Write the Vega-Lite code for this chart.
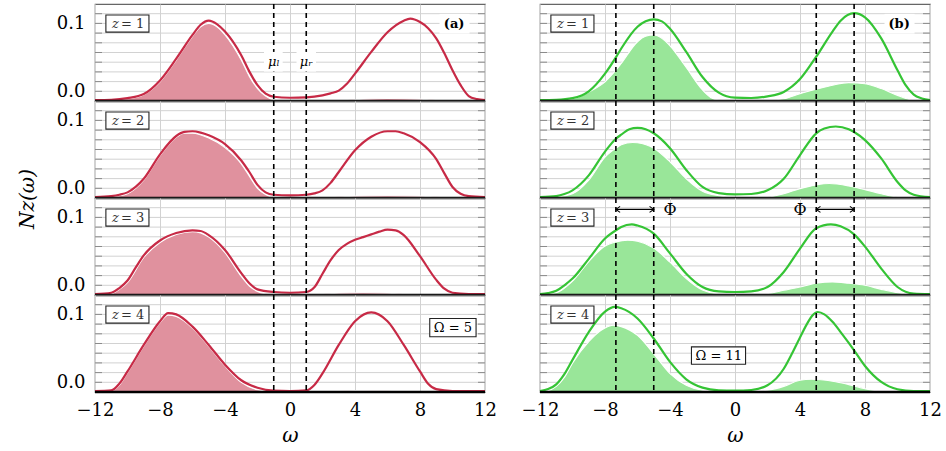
{
"$schema": "https://vega.github.io/schema/vega-lite/v6.json",
"padding": {"left": 17, "top": 2, "right": 13, "bottom": 0},
"bounds": "flush",
"config": {
  "font": "DejaVu Serif",
  "text": {"font": "DejaVu Serif"},
  "view": {"stroke": "#666", "strokeWidth": 1.2},
  "axis": {"labelFont": "DejaVu Serif", "labelFontSize": 18, "labelColor": "#000", "titleFont": "DejaVu Serif", "titleFontSize": 20, "titleFontWeight": "normal", "titleColor": "#000", "domain": false, "gridColor": "#d2d2d2", "gridWidth": 1, "tickColor": "#888", "tickWidth": 1}
},
"data": {"values": [
{"t":"box","p":"a","z":1,"zl":"= 1","tag":"(a)"},
{"t":"box","p":"a","z":2,"zl":"= 2","tag":"(a)"},
{"t":"box","p":"a","z":3,"zl":"= 3","tag":"(a)"},
{"t":"box","p":"a","z":4,"zl":"= 4","tag":"(a)"},
{"t":"box","p":"b","z":1,"zl":"= 1","tag":"(b)"},
{"t":"box","p":"b","z":2,"zl":"= 2","tag":"(b)"},
{"t":"box","p":"b","z":3,"zl":"= 3","tag":"(b)"},
{"t":"box","p":"b","z":4,"zl":"= 4","tag":"(b)"},
{"t":"v","p":"a","z":1,"x":-1},{"t":"v","p":"a","z":1,"x":1},
{"t":"v","p":"a","z":2,"x":-1},{"t":"v","p":"a","z":2,"x":1},
{"t":"v","p":"a","z":3,"x":-1},{"t":"v","p":"a","z":3,"x":1},
{"t":"v","p":"a","z":4,"x":-1},{"t":"v","p":"a","z":4,"x":1},
{"t":"v","p":"b","z":1,"x":-7.33},{"t":"v","p":"b","z":1,"x":-5},{"t":"v","p":"b","z":1,"x":5},{"t":"v","p":"b","z":1,"x":7.33},
{"t":"v","p":"b","z":2,"x":-7.33},{"t":"v","p":"b","z":2,"x":-5},{"t":"v","p":"b","z":2,"x":5},{"t":"v","p":"b","z":2,"x":7.33},
{"t":"v","p":"b","z":3,"x":-7.33},{"t":"v","p":"b","z":3,"x":-5},{"t":"v","p":"b","z":3,"x":5},{"t":"v","p":"b","z":3,"x":7.33},
{"t":"v","p":"b","z":4,"x":-7.33},{"t":"v","p":"b","z":4,"x":-5},{"t":"v","p":"b","z":4,"x":5},{"t":"v","p":"b","z":4,"x":7.33},

{"t":"l","p":"a","z":1,"x":-12,"y":-0.013},{"t":"l","p":"a","z":1,"x":-11,"y":-0.0125},{"t":"l","p":"a","z":1,"x":-10,"y":-0.010},{"t":"l","p":"a","z":1,"x":-9,"y":-0.004},{"t":"l","p":"a","z":1,"x":-8,"y":0.016},{"t":"l","p":"a","z":1,"x":-7,"y":0.048},{"t":"l","p":"a","z":1,"x":-6,"y":0.083},{"t":"l","p":"a","z":1,"x":-5.5,"y":0.098},{"t":"l","p":"a","z":1,"x":-5,"y":0.104},{"t":"l","p":"a","z":1,"x":-4.5,"y":0.099},{"t":"l","p":"a","z":1,"x":-4,"y":0.088},{"t":"l","p":"a","z":1,"x":-3,"y":0.053},{"t":"l","p":"a","z":1,"x":-2.5,"y":0.029},{"t":"l","p":"a","z":1,"x":-2,"y":0.009},{"t":"l","p":"a","z":1,"x":-1.5,"y":-0.0035},{"t":"l","p":"a","z":1,"x":-1,"y":-0.008},{"t":"l","p":"a","z":1,"x":0,"y":-0.0095},{"t":"l","p":"a","z":1,"x":1,"y":-0.009},{"t":"l","p":"a","z":1,"x":2,"y":-0.006},{"t":"l","p":"a","z":1,"x":2.5,"y":-0.003},{"t":"l","p":"a","z":1,"x":3,"y":0.001},{"t":"l","p":"a","z":1,"x":3.5,"y":0.011},{"t":"l","p":"a","z":1,"x":4,"y":0.026},{"t":"l","p":"a","z":1,"x":5,"y":0.058},{"t":"l","p":"a","z":1,"x":6,"y":0.087},{"t":"l","p":"a","z":1,"x":7,"y":0.104},{"t":"l","p":"a","z":1,"x":7.4,"y":0.107},{"t":"l","p":"a","z":1,"x":8,"y":0.102},{"t":"l","p":"a","z":1,"x":8.5,"y":0.093},{"t":"l","p":"a","z":1,"x":9,"y":0.078},{"t":"l","p":"a","z":1,"x":9.5,"y":0.056},{"t":"l","p":"a","z":1,"x":10,"y":0.031},{"t":"l","p":"a","z":1,"x":10.5,"y":0.009},{"t":"l","p":"a","z":1,"x":11,"y":-0.007},{"t":"l","p":"a","z":1,"x":11.5,"y":-0.0115},{"t":"l","p":"a","z":1,"x":12,"y":-0.013},

{"t":"f","p":"a","z":1,"x":-12,"y":-0.0135},{"t":"f","p":"a","z":1,"x":-10,"y":-0.011},{"t":"f","p":"a","z":1,"x":-9,"y":-0.005},{"t":"f","p":"a","z":1,"x":-8,"y":0.014},{"t":"f","p":"a","z":1,"x":-7,"y":0.046},{"t":"f","p":"a","z":1,"x":-6,"y":0.081},{"t":"f","p":"a","z":1,"x":-5.5,"y":0.095},{"t":"f","p":"a","z":1,"x":-5,"y":0.1},{"t":"f","p":"a","z":1,"x":-4.5,"y":0.095},{"t":"f","p":"a","z":1,"x":-4,"y":0.083},{"t":"f","p":"a","z":1,"x":-3,"y":0.046},{"t":"f","p":"a","z":1,"x":-2.5,"y":0.022},{"t":"f","p":"a","z":1,"x":-2,"y":0.004},{"t":"f","p":"a","z":1,"x":-1.5,"y":-0.007},{"t":"f","p":"a","z":1,"x":-1,"y":-0.0125},{"t":"f","p":"a","z":1,"x":0,"y":-0.0135},{"t":"f","p":"a","z":1,"x":3,"y":-0.0135},{"t":"f","p":"a","z":1,"x":4.5,"y":-0.0115},{"t":"f","p":"a","z":1,"x":6,"y":-0.0105},{"t":"f","p":"a","z":1,"x":8,"y":-0.0115},{"t":"f","p":"a","z":1,"x":9.5,"y":-0.0135},{"t":"f","p":"a","z":1,"x":12,"y":-0.0135},

{"t":"l","p":"a","z":2,"x":-12,"y":-0.013},{"t":"l","p":"a","z":2,"x":-11,"y":-0.0115},{"t":"l","p":"a","z":2,"x":-10.5,"y":-0.0095},{"t":"l","p":"a","z":2,"x":-10,"y":-0.006},{"t":"l","p":"a","z":2,"x":-9.5,"y":0.002},{"t":"l","p":"a","z":2,"x":-9,"y":0.014},{"t":"l","p":"a","z":2,"x":-8,"y":0.05},{"t":"l","p":"a","z":2,"x":-7,"y":0.077},{"t":"l","p":"a","z":2,"x":-6.5,"y":0.083},{"t":"l","p":"a","z":2,"x":-6,"y":0.084},{"t":"l","p":"a","z":2,"x":-5.5,"y":0.082},{"t":"l","p":"a","z":2,"x":-5,"y":0.078},{"t":"l","p":"a","z":2,"x":-4,"y":0.065},{"t":"l","p":"a","z":2,"x":-3,"y":0.041},{"t":"l","p":"a","z":2,"x":-2.5,"y":0.024},{"t":"l","p":"a","z":2,"x":-2,"y":0.005},{"t":"l","p":"a","z":2,"x":-1.5,"y":-0.006},{"t":"l","p":"a","z":2,"x":-1,"y":-0.0095},{"t":"l","p":"a","z":2,"x":0,"y":-0.0105},{"t":"l","p":"a","z":2,"x":1,"y":-0.0095},{"t":"l","p":"a","z":2,"x":1.5,"y":-0.0075},{"t":"l","p":"a","z":2,"x":2,"y":-0.003},{"t":"l","p":"a","z":2,"x":2.5,"y":0.008},{"t":"l","p":"a","z":2,"x":3,"y":0.024},{"t":"l","p":"a","z":2,"x":4,"y":0.056},{"t":"l","p":"a","z":2,"x":5,"y":0.076},{"t":"l","p":"a","z":2,"x":6,"y":0.084},{"t":"l","p":"a","z":2,"x":6.5,"y":0.084},{"t":"l","p":"a","z":2,"x":7,"y":0.081},{"t":"l","p":"a","z":2,"x":8,"y":0.068},{"t":"l","p":"a","z":2,"x":9,"y":0.043},{"t":"l","p":"a","z":2,"x":9.5,"y":0.022},{"t":"l","p":"a","z":2,"x":10,"y":0.002},{"t":"l","p":"a","z":2,"x":10.5,"y":-0.008},{"t":"l","p":"a","z":2,"x":11,"y":-0.0115},{"t":"l","p":"a","z":2,"x":12,"y":-0.013},

{"t":"f","p":"a","z":2,"x":-12,"y":-0.0135},{"t":"f","p":"a","z":2,"x":-10.5,"y":-0.011},{"t":"f","p":"a","z":2,"x":-10,"y":-0.008},{"t":"f","p":"a","z":2,"x":-9,"y":0.012},{"t":"f","p":"a","z":2,"x":-8,"y":0.048},{"t":"f","p":"a","z":2,"x":-7,"y":0.075},{"t":"f","p":"a","z":2,"x":-6.5,"y":0.081},{"t":"f","p":"a","z":2,"x":-6,"y":0.081},{"t":"f","p":"a","z":2,"x":-5,"y":0.074},{"t":"f","p":"a","z":2,"x":-4,"y":0.06},{"t":"f","p":"a","z":2,"x":-3,"y":0.036},{"t":"f","p":"a","z":2,"x":-2.5,"y":0.018},{"t":"f","p":"a","z":2,"x":-2,"y":0.0},{"t":"f","p":"a","z":2,"x":-1.5,"y":-0.009},{"t":"f","p":"a","z":2,"x":-1,"y":-0.0135},{"t":"f","p":"a","z":2,"x":2,"y":-0.0135},{"t":"f","p":"a","z":2,"x":4,"y":-0.0115},{"t":"f","p":"a","z":2,"x":6,"y":-0.011},{"t":"f","p":"a","z":2,"x":8,"y":-0.0115},{"t":"f","p":"a","z":2,"x":10,"y":-0.0135},{"t":"f","p":"a","z":2,"x":12,"y":-0.0135},

{"t":"l","p":"a","z":3,"x":-12,"y":-0.013},{"t":"l","p":"a","z":3,"x":-11,"y":-0.011},{"t":"l","p":"a","z":3,"x":-10.5,"y":-0.004},{"t":"l","p":"a","z":3,"x":-10,"y":0.007},{"t":"l","p":"a","z":3,"x":-9.5,"y":0.026},{"t":"l","p":"a","z":3,"x":-9,"y":0.044},{"t":"l","p":"a","z":3,"x":-8,"y":0.066},{"t":"l","p":"a","z":3,"x":-7,"y":0.077},{"t":"l","p":"a","z":3,"x":-6,"y":0.081},{"t":"l","p":"a","z":3,"x":-5.5,"y":0.08},{"t":"l","p":"a","z":3,"x":-5,"y":0.074},{"t":"l","p":"a","z":3,"x":-4,"y":0.052},{"t":"l","p":"a","z":3,"x":-3,"y":0.018},{"t":"l","p":"a","z":3,"x":-2.5,"y":0.003},{"t":"l","p":"a","z":3,"x":-2,"y":-0.006},{"t":"l","p":"a","z":3,"x":-1,"y":-0.0099},{"t":"l","p":"a","z":3,"x":0,"y":-0.011},{"t":"l","p":"a","z":3,"x":1,"y":-0.0099},{"t":"l","p":"a","z":3,"x":1.5,"y":-0.003},{"t":"l","p":"a","z":3,"x":2,"y":0.017},{"t":"l","p":"a","z":3,"x":2.5,"y":0.037},{"t":"l","p":"a","z":3,"x":3,"y":0.052},{"t":"l","p":"a","z":3,"x":3.5,"y":0.061},{"t":"l","p":"a","z":3,"x":4,"y":0.067},{"t":"l","p":"a","z":3,"x":4.5,"y":0.071},{"t":"l","p":"a","z":3,"x":5,"y":0.075},{"t":"l","p":"a","z":3,"x":5.5,"y":0.079},{"t":"l","p":"a","z":3,"x":6,"y":0.082},{"t":"l","p":"a","z":3,"x":6.5,"y":0.081},{"t":"l","p":"a","z":3,"x":7,"y":0.074},{"t":"l","p":"a","z":3,"x":8,"y":0.043},{"t":"l","p":"a","z":3,"x":9,"y":0.008},{"t":"l","p":"a","z":3,"x":9.5,"y":-0.005},{"t":"l","p":"a","z":3,"x":10,"y":-0.011},{"t":"l","p":"a","z":3,"x":11,"y":-0.0128},{"t":"l","p":"a","z":3,"x":12,"y":-0.013},

{"t":"f","p":"a","z":3,"x":-12,"y":-0.0135},{"t":"f","p":"a","z":3,"x":-11,"y":-0.0125},{"t":"f","p":"a","z":3,"x":-10.5,"y":-0.006},{"t":"f","p":"a","z":3,"x":-10,"y":0.004},{"t":"f","p":"a","z":3,"x":-9,"y":0.041},{"t":"f","p":"a","z":3,"x":-8,"y":0.063},{"t":"f","p":"a","z":3,"x":-7,"y":0.075},{"t":"f","p":"a","z":3,"x":-6,"y":0.079},{"t":"f","p":"a","z":3,"x":-5.5,"y":0.077},{"t":"f","p":"a","z":3,"x":-5,"y":0.071},{"t":"f","p":"a","z":3,"x":-4,"y":0.048},{"t":"f","p":"a","z":3,"x":-3,"y":0.013},{"t":"f","p":"a","z":3,"x":-2.5,"y":-0.001},{"t":"f","p":"a","z":3,"x":-2,"y":-0.009},{"t":"f","p":"a","z":3,"x":-1.5,"y":-0.0125},{"t":"f","p":"a","z":3,"x":-1,"y":-0.0135},{"t":"f","p":"a","z":3,"x":1.5,"y":-0.0135},{"t":"f","p":"a","z":3,"x":3,"y":-0.0115},{"t":"f","p":"a","z":3,"x":4.5,"y":-0.011},{"t":"f","p":"a","z":3,"x":6,"y":-0.0115},{"t":"f","p":"a","z":3,"x":7.5,"y":-0.0135},{"t":"f","p":"a","z":3,"x":12,"y":-0.0135},

{"t":"l","p":"a","z":4,"x":-12,"y":-0.013},{"t":"l","p":"a","z":4,"x":-11,"y":-0.012},{"t":"l","p":"a","z":4,"x":-10.5,"y":-0.002},{"t":"l","p":"a","z":4,"x":-10,"y":0.016},{"t":"l","p":"a","z":4,"x":-9,"y":0.055},{"t":"l","p":"a","z":4,"x":-8,"y":0.09},{"t":"l","p":"a","z":4,"x":-7.5,"y":0.102},{"t":"l","p":"a","z":4,"x":-7,"y":0.1},{"t":"l","p":"a","z":4,"x":-6,"y":0.082},{"t":"l","p":"a","z":4,"x":-5,"y":0.055},{"t":"l","p":"a","z":4,"x":-4,"y":0.026},{"t":"l","p":"a","z":4,"x":-3,"y":0.003},{"t":"l","p":"a","z":4,"x":-2,"y":-0.008},{"t":"l","p":"a","z":4,"x":-1,"y":-0.0123},{"t":"l","p":"a","z":4,"x":0,"y":-0.0128},{"t":"l","p":"a","z":4,"x":1,"y":-0.012},{"t":"l","p":"a","z":4,"x":1.5,"y":-0.004},{"t":"l","p":"a","z":4,"x":2,"y":0.013},{"t":"l","p":"a","z":4,"x":3,"y":0.055},{"t":"l","p":"a","z":4,"x":4,"y":0.09},{"t":"l","p":"a","z":4,"x":5,"y":0.103},{"t":"l","p":"a","z":4,"x":6,"y":0.09},{"t":"l","p":"a","z":4,"x":7,"y":0.055},{"t":"l","p":"a","z":4,"x":8,"y":0.016},{"t":"l","p":"a","z":4,"x":8.5,"y":-0.002},{"t":"l","p":"a","z":4,"x":9,"y":-0.01},{"t":"l","p":"a","z":4,"x":10,"y":-0.0128},{"t":"l","p":"a","z":4,"x":12,"y":-0.013},

{"t":"f","p":"a","z":4,"x":-12,"y":-0.0135},{"t":"f","p":"a","z":4,"x":-11,"y":-0.0125},{"t":"f","p":"a","z":4,"x":-10.5,"y":-0.004},{"t":"f","p":"a","z":4,"x":-10,"y":0.014},{"t":"f","p":"a","z":4,"x":-9,"y":0.053},{"t":"f","p":"a","z":4,"x":-8,"y":0.088},{"t":"f","p":"a","z":4,"x":-7.5,"y":0.099},{"t":"f","p":"a","z":4,"x":-7,"y":0.097},{"t":"f","p":"a","z":4,"x":-6,"y":0.08},{"t":"f","p":"a","z":4,"x":-5,"y":0.053},{"t":"f","p":"a","z":4,"x":-4,"y":0.024},{"t":"f","p":"a","z":4,"x":-3,"y":0.0},{"t":"f","p":"a","z":4,"x":-2,"y":-0.011},{"t":"f","p":"a","z":4,"x":-1,"y":-0.0135},{"t":"f","p":"a","z":4,"x":2,"y":-0.0135},{"t":"f","p":"a","z":4,"x":4,"y":-0.012},{"t":"f","p":"a","z":4,"x":6,"y":-0.0125},{"t":"f","p":"a","z":4,"x":7,"y":-0.0135},{"t":"f","p":"a","z":4,"x":12,"y":-0.0135},

{"t":"l","p":"b","z":1,"x":-12,"y":-0.013},{"t":"l","p":"b","z":1,"x":-11,"y":-0.0125},{"t":"l","p":"b","z":1,"x":-10,"y":-0.01},{"t":"l","p":"b","z":1,"x":-9,"y":0.0},{"t":"l","p":"b","z":1,"x":-8,"y":0.026},{"t":"l","p":"b","z":1,"x":-7.33,"y":0.05},{"t":"l","p":"b","z":1,"x":-7,"y":0.063},{"t":"l","p":"b","z":1,"x":-6,"y":0.095},{"t":"l","p":"b","z":1,"x":-5.5,"y":0.103},{"t":"l","p":"b","z":1,"x":-5,"y":0.106},{"t":"l","p":"b","z":1,"x":-4.5,"y":0.103},{"t":"l","p":"b","z":1,"x":-4,"y":0.092},{"t":"l","p":"b","z":1,"x":-3,"y":0.058},{"t":"l","p":"b","z":1,"x":-2,"y":0.021},{"t":"l","p":"b","z":1,"x":-1,"y":-0.002},{"t":"l","p":"b","z":1,"x":0,"y":-0.0094},{"t":"l","p":"b","z":1,"x":1,"y":-0.0099},{"t":"l","p":"b","z":1,"x":2,"y":-0.0075},{"t":"l","p":"b","z":1,"x":3,"y":-0.001},{"t":"l","p":"b","z":1,"x":4,"y":0.018},{"t":"l","p":"b","z":1,"x":5,"y":0.051},{"t":"l","p":"b","z":1,"x":6,"y":0.088},{"t":"l","p":"b","z":1,"x":6.5,"y":0.104},{"t":"l","p":"b","z":1,"x":7.33,"y":0.115},{"t":"l","p":"b","z":1,"x":8,"y":0.109},{"t":"l","p":"b","z":1,"x":9,"y":0.078},{"t":"l","p":"b","z":1,"x":10,"y":0.031},{"t":"l","p":"b","z":1,"x":10.5,"y":0.009},{"t":"l","p":"b","z":1,"x":11,"y":-0.005},{"t":"l","p":"b","z":1,"x":11.5,"y":-0.0105},{"t":"l","p":"b","z":1,"x":12,"y":-0.013},

{"t":"f","p":"b","z":1,"x":-12,"y":-0.0135},{"t":"f","p":"b","z":1,"x":-10.5,"y":-0.0125},{"t":"f","p":"b","z":1,"x":-10,"y":-0.011},{"t":"f","p":"b","z":1,"x":-9.5,"y":-0.007},{"t":"f","p":"b","z":1,"x":-9,"y":-0.001},{"t":"f","p":"b","z":1,"x":-8,"y":0.014},{"t":"f","p":"b","z":1,"x":-7.33,"y":0.031},{"t":"f","p":"b","z":1,"x":-7,"y":0.041},{"t":"f","p":"b","z":1,"x":-6,"y":0.073},{"t":"f","p":"b","z":1,"x":-5.5,"y":0.081},{"t":"f","p":"b","z":1,"x":-5,"y":0.083},{"t":"f","p":"b","z":1,"x":-4.5,"y":0.078},{"t":"f","p":"b","z":1,"x":-4,"y":0.067},{"t":"f","p":"b","z":1,"x":-3,"y":0.035},{"t":"f","p":"b","z":1,"x":-2,"y":0.002},{"t":"f","p":"b","z":1,"x":-1.5,"y":-0.009},{"t":"f","p":"b","z":1,"x":-1,"y":-0.0125},{"t":"f","p":"b","z":1,"x":0,"y":-0.0135},{"t":"f","p":"b","z":1,"x":2,"y":-0.013},{"t":"f","p":"b","z":1,"x":3,"y":-0.011},{"t":"f","p":"b","z":1,"x":4,"y":-0.0035},{"t":"f","p":"b","z":1,"x":5,"y":0.003},{"t":"f","p":"b","z":1,"x":6,"y":0.009},{"t":"f","p":"b","z":1,"x":7,"y":0.0128},{"t":"f","p":"b","z":1,"x":8,"y":0.011},{"t":"f","p":"b","z":1,"x":9,"y":0.004},{"t":"f","p":"b","z":1,"x":10,"y":-0.006},{"t":"f","p":"b","z":1,"x":11,"y":-0.013},{"t":"f","p":"b","z":1,"x":12,"y":-0.0135},

{"t":"l","p":"b","z":2,"x":-12,"y":-0.013},{"t":"l","p":"b","z":2,"x":-11,"y":-0.0115},{"t":"l","p":"b","z":2,"x":-10.5,"y":-0.0085},{"t":"l","p":"b","z":2,"x":-10,"y":-0.003},{"t":"l","p":"b","z":2,"x":-9,"y":0.019},{"t":"l","p":"b","z":2,"x":-8,"y":0.054},{"t":"l","p":"b","z":2,"x":-7.33,"y":0.073},{"t":"l","p":"b","z":2,"x":-7,"y":0.079},{"t":"l","p":"b","z":2,"x":-6.5,"y":0.087},{"t":"l","p":"b","z":2,"x":-6,"y":0.089},{"t":"l","p":"b","z":2,"x":-5.5,"y":0.087},{"t":"l","p":"b","z":2,"x":-5,"y":0.081},{"t":"l","p":"b","z":2,"x":-4,"y":0.059},{"t":"l","p":"b","z":2,"x":-3,"y":0.027},{"t":"l","p":"b","z":2,"x":-2,"y":0.002},{"t":"l","p":"b","z":2,"x":-1,"y":-0.007},{"t":"l","p":"b","z":2,"x":0,"y":-0.009},{"t":"l","p":"b","z":2,"x":1,"y":-0.0084},{"t":"l","p":"b","z":2,"x":2,"y":-0.003},{"t":"l","p":"b","z":2,"x":3,"y":0.014},{"t":"l","p":"b","z":2,"x":4,"y":0.049},{"t":"l","p":"b","z":2,"x":5,"y":0.081},{"t":"l","p":"b","z":2,"x":5.5,"y":0.088},{"t":"l","p":"b","z":2,"x":6.2,"y":0.091},{"t":"l","p":"b","z":2,"x":7,"y":0.087},{"t":"l","p":"b","z":2,"x":7.33,"y":0.083},{"t":"l","p":"b","z":2,"x":8,"y":0.071},{"t":"l","p":"b","z":2,"x":9,"y":0.044},{"t":"l","p":"b","z":2,"x":10,"y":0.0094},{"t":"l","p":"b","z":2,"x":10.5,"y":-0.003},{"t":"l","p":"b","z":2,"x":11,"y":-0.0094},{"t":"l","p":"b","z":2,"x":12,"y":-0.013},

{"t":"f","p":"b","z":2,"x":-12,"y":-0.0135},{"t":"f","p":"b","z":2,"x":-11,"y":-0.0125},{"t":"f","p":"b","z":2,"x":-10,"y":-0.008},{"t":"f","p":"b","z":2,"x":-9,"y":0.012},{"t":"f","p":"b","z":2,"x":-8,"y":0.046},{"t":"f","p":"b","z":2,"x":-7.33,"y":0.059},{"t":"f","p":"b","z":2,"x":-7,"y":0.064},{"t":"f","p":"b","z":2,"x":-6.3,"y":0.0675},{"t":"f","p":"b","z":2,"x":-6,"y":0.067},{"t":"f","p":"b","z":2,"x":-5,"y":0.059},{"t":"f","p":"b","z":2,"x":-4,"y":0.039},{"t":"f","p":"b","z":2,"x":-3,"y":0.014},{"t":"f","p":"b","z":2,"x":-2,"y":-0.0044},{"t":"f","p":"b","z":2,"x":-1,"y":-0.011},{"t":"f","p":"b","z":2,"x":0,"y":-0.0135},{"t":"f","p":"b","z":2,"x":1,"y":-0.0135},{"t":"f","p":"b","z":2,"x":2,"y":-0.0128},{"t":"f","p":"b","z":2,"x":3,"y":-0.008},{"t":"f","p":"b","z":2,"x":4,"y":-0.0005},{"t":"f","p":"b","z":2,"x":5,"y":0.005},{"t":"f","p":"b","z":2,"x":5.8,"y":0.007},{"t":"f","p":"b","z":2,"x":7,"y":0.0035},{"t":"f","p":"b","z":2,"x":8,"y":-0.002},{"t":"f","p":"b","z":2,"x":9,"y":-0.008},{"t":"f","p":"b","z":2,"x":10,"y":-0.0128},{"t":"f","p":"b","z":2,"x":11,"y":-0.0135},{"t":"f","p":"b","z":2,"x":12,"y":-0.0135},

{"t":"l","p":"b","z":3,"x":-12,"y":-0.013},{"t":"l","p":"b","z":3,"x":-11.5,"y":-0.0115},{"t":"l","p":"b","z":3,"x":-11,"y":-0.008},{"t":"l","p":"b","z":3,"x":-10.5,"y":0.0},{"t":"l","p":"b","z":3,"x":-10,"y":0.0099},{"t":"l","p":"b","z":3,"x":-9,"y":0.039},{"t":"l","p":"b","z":3,"x":-8,"y":0.069},{"t":"l","p":"b","z":3,"x":-7.33,"y":0.081},{"t":"l","p":"b","z":3,"x":-7,"y":0.086},{"t":"l","p":"b","z":3,"x":-6.35,"y":0.0897},{"t":"l","p":"b","z":3,"x":-6,"y":0.088},{"t":"l","p":"b","z":3,"x":-5,"y":0.076},{"t":"l","p":"b","z":3,"x":-4,"y":0.047},{"t":"l","p":"b","z":3,"x":-3,"y":0.017},{"t":"l","p":"b","z":3,"x":-2,"y":-0.0025},{"t":"l","p":"b","z":3,"x":-1,"y":-0.0089},{"t":"l","p":"b","z":3,"x":0,"y":-0.0099},{"t":"l","p":"b","z":3,"x":1,"y":-0.0089},{"t":"l","p":"b","z":3,"x":2,"y":-0.0025},{"t":"l","p":"b","z":3,"x":3,"y":0.0197},{"t":"l","p":"b","z":3,"x":4,"y":0.054},{"t":"l","p":"b","z":3,"x":5,"y":0.084},{"t":"l","p":"b","z":3,"x":5.9,"y":0.0897},{"t":"l","p":"b","z":3,"x":6.5,"y":0.087},{"t":"l","p":"b","z":3,"x":7.33,"y":0.075},{"t":"l","p":"b","z":3,"x":8,"y":0.057},{"t":"l","p":"b","z":3,"x":9,"y":0.0246},{"t":"l","p":"b","z":3,"x":10,"y":-0.0025},{"t":"l","p":"b","z":3,"x":11,"y":-0.0123},{"t":"l","p":"b","z":3,"x":12,"y":-0.013},

{"t":"f","p":"b","z":3,"x":-12,"y":-0.0135},{"t":"f","p":"b","z":3,"x":-11,"y":-0.011},{"t":"f","p":"b","z":3,"x":-10,"y":0.006},{"t":"f","p":"b","z":3,"x":-9,"y":0.035},{"t":"f","p":"b","z":3,"x":-8,"y":0.058},{"t":"f","p":"b","z":3,"x":-7.33,"y":0.064},{"t":"f","p":"b","z":3,"x":-6.6,"y":0.0665},{"t":"f","p":"b","z":3,"x":-6,"y":0.065},{"t":"f","p":"b","z":3,"x":-5,"y":0.055},{"t":"f","p":"b","z":3,"x":-4,"y":0.034},{"t":"f","p":"b","z":3,"x":-3,"y":0.01},{"t":"f","p":"b","z":3,"x":-2,"y":-0.007},{"t":"f","p":"b","z":3,"x":-1,"y":-0.0125},{"t":"f","p":"b","z":3,"x":0,"y":-0.0135},{"t":"f","p":"b","z":3,"x":1,"y":-0.0135},{"t":"f","p":"b","z":3,"x":2,"y":-0.0123},{"t":"f","p":"b","z":3,"x":3,"y":-0.0074},{"t":"f","p":"b","z":3,"x":4,"y":-0.0025},{"t":"f","p":"b","z":3,"x":5,"y":0.003},{"t":"f","p":"b","z":3,"x":6,"y":0.005},{"t":"f","p":"b","z":3,"x":7,"y":0.003},{"t":"f","p":"b","z":3,"x":8,"y":0.0},{"t":"f","p":"b","z":3,"x":9,"y":-0.006},{"t":"f","p":"b","z":3,"x":10,"y":-0.011},{"t":"f","p":"b","z":3,"x":11,"y":-0.0135},{"t":"f","p":"b","z":3,"x":12,"y":-0.0135},

{"t":"l","p":"b","z":4,"x":-12,"y":-0.013},{"t":"l","p":"b","z":4,"x":-11.5,"y":-0.01},{"t":"l","p":"b","z":4,"x":-11,"y":-0.003},{"t":"l","p":"b","z":4,"x":-10.5,"y":0.012},{"t":"l","p":"b","z":4,"x":-10,"y":0.033},{"t":"l","p":"b","z":4,"x":-9,"y":0.074},{"t":"l","p":"b","z":4,"x":-8,"y":0.104},{"t":"l","p":"b","z":4,"x":-7.4,"y":0.111},{"t":"l","p":"b","z":4,"x":-7,"y":0.109},{"t":"l","p":"b","z":4,"x":-6,"y":0.094},{"t":"l","p":"b","z":4,"x":-5,"y":0.0645},{"t":"l","p":"b","z":4,"x":-4,"y":0.03},{"t":"l","p":"b","z":4,"x":-3,"y":0.0044},{"t":"l","p":"b","z":4,"x":-2,"y":-0.0079},{"t":"l","p":"b","z":4,"x":-1,"y":-0.0118},{"t":"l","p":"b","z":4,"x":0,"y":-0.0123},{"t":"l","p":"b","z":4,"x":1,"y":-0.0113},{"t":"l","p":"b","z":4,"x":2,"y":-0.0044},{"t":"l","p":"b","z":4,"x":3,"y":0.02},{"t":"l","p":"b","z":4,"x":3.5,"y":0.042},{"t":"l","p":"b","z":4,"x":4,"y":0.066},{"t":"l","p":"b","z":4,"x":4.5,"y":0.089},{"t":"l","p":"b","z":4,"x":4.75,"y":0.098},{"t":"l","p":"b","z":4,"x":5.1,"y":0.1035},{"t":"l","p":"b","z":4,"x":5.5,"y":0.1},{"t":"l","p":"b","z":4,"x":6,"y":0.089},{"t":"l","p":"b","z":4,"x":6.5,"y":0.074},{"t":"l","p":"b","z":4,"x":7,"y":0.058},{"t":"l","p":"b","z":4,"x":7.33,"y":0.047},{"t":"l","p":"b","z":4,"x":8,"y":0.024},{"t":"l","p":"b","z":4,"x":9,"y":0.0005},{"t":"l","p":"b","z":4,"x":10,"y":-0.0103},{"t":"l","p":"b","z":4,"x":11,"y":-0.013},{"t":"l","p":"b","z":4,"x":12,"y":-0.013},

{"t":"f","p":"b","z":4,"x":-12,"y":-0.0135},{"t":"f","p":"b","z":4,"x":-11.5,"y":-0.0123},{"t":"f","p":"b","z":4,"x":-11,"y":-0.006},{"t":"f","p":"b","z":4,"x":-10.5,"y":0.007},{"t":"f","p":"b","z":4,"x":-10,"y":0.028},{"t":"f","p":"b","z":4,"x":-9,"y":0.06},{"t":"f","p":"b","z":4,"x":-8,"y":0.08},{"t":"f","p":"b","z":4,"x":-7.5,"y":0.084},{"t":"f","p":"b","z":4,"x":-7,"y":0.082},{"t":"f","p":"b","z":4,"x":-6,"y":0.069},{"t":"f","p":"b","z":4,"x":-5,"y":0.042},{"t":"f","p":"b","z":4,"x":-4,"y":0.0128},{"t":"f","p":"b","z":4,"x":-3,"y":-0.0044},{"t":"f","p":"b","z":4,"x":-2,"y":-0.0118},{"t":"f","p":"b","z":4,"x":-1,"y":-0.0135},{"t":"f","p":"b","z":4,"x":1,"y":-0.0135},{"t":"f","p":"b","z":4,"x":2,"y":-0.0118},{"t":"f","p":"b","z":4,"x":3,"y":-0.006},{"t":"f","p":"b","z":4,"x":4,"y":0.003},{"t":"f","p":"b","z":4,"x":4.7,"y":0.0044},{"t":"f","p":"b","z":4,"x":6,"y":0.0015},{"t":"f","p":"b","z":4,"x":7,"y":-0.0034},{"t":"f","p":"b","z":4,"x":8,"y":-0.0094},{"t":"f","p":"b","z":4,"x":9,"y":-0.013},{"t":"f","p":"b","z":4,"x":10,"y":-0.0135},{"t":"f","p":"b","z":4,"x":12,"y":-0.0135}
]},
"facet": {
  "row": {"field": "z", "type": "ordinal", "title": "Nz(ω)", "header": {"labels": false, "titleFont": "DejaVu Serif", "titleFontSize": 20, "titleFontStyle": "italic", "titleFontWeight": "normal", "titleColor": "#000", "titlePadding": 8}},
  "column": {"field": "p", "type": "nominal", "title": null, "header": {"labels": false}}
},
"spacing": {"row": 0, "column": 55},
"spec": {
  "width": 390,
  "height": 97,
  "layer": [
    {"transform": [{"filter": "datum.t=='box'"}], "mark": {"type": "rule", "color": "#d2d2d2", "strokeWidth": 1}, "encoding": {"y": {"datum": 0}}},
    {"transform": [{"filter": "datum.t=='box'"}], "mark": {"type": "rule", "color": "#d2d2d2", "strokeWidth": 1}, "encoding": {"y": {"datum": 0.0142857}}},
    {"transform": [{"filter": "datum.t=='box'"}], "mark": {"type": "rule", "color": "#d2d2d2", "strokeWidth": 1}, "encoding": {"y": {"datum": 0.0285714}}},
    {"transform": [{"filter": "datum.t=='box'"}], "mark": {"type": "rule", "color": "#d2d2d2", "strokeWidth": 1}, "encoding": {"y": {"datum": 0.0428571}}},
    {"transform": [{"filter": "datum.t=='box'"}], "mark": {"type": "rule", "color": "#d2d2d2", "strokeWidth": 1}, "encoding": {"y": {"datum": 0.0571429}}},
    {"transform": [{"filter": "datum.t=='box'"}], "mark": {"type": "rule", "color": "#d2d2d2", "strokeWidth": 1}, "encoding": {"y": {"datum": 0.0714286}}},
    {"transform": [{"filter": "datum.t=='box'"}], "mark": {"type": "rule", "color": "#d2d2d2", "strokeWidth": 1}, "encoding": {"y": {"datum": 0.0857143}}},
    {"transform": [{"filter": "datum.t=='box'"}], "mark": {"type": "rule", "color": "#d2d2d2", "strokeWidth": 1}, "encoding": {"y": {"datum": 0.1}}},
    {"transform": [{"filter": "datum.t=='box'"}], "mark": {"type": "rule", "color": "#d2d2d2", "strokeWidth": 1}, "encoding": {"y": {"datum": 0.1142857}}},
    {"transform": [{"filter": "datum.t=='box'"}], "mark": {"type": "rule", "color": "#8a8a8a", "strokeWidth": 1, "strokeDash": [7, 376]}, "encoding": {"y": {"datum": 0}}},
    {"transform": [{"filter": "datum.t=='box'"}], "mark": {"type": "rule", "color": "#8a8a8a", "strokeWidth": 1, "strokeDash": [7, 376]}, "encoding": {"y": {"datum": 0.0142857}}},
    {"transform": [{"filter": "datum.t=='box'"}], "mark": {"type": "rule", "color": "#8a8a8a", "strokeWidth": 1, "strokeDash": [7, 376]}, "encoding": {"y": {"datum": 0.0285714}}},
    {"transform": [{"filter": "datum.t=='box'"}], "mark": {"type": "rule", "color": "#8a8a8a", "strokeWidth": 1, "strokeDash": [7, 376]}, "encoding": {"y": {"datum": 0.0428571}}},
    {"transform": [{"filter": "datum.t=='box'"}], "mark": {"type": "rule", "color": "#8a8a8a", "strokeWidth": 1, "strokeDash": [7, 376]}, "encoding": {"y": {"datum": 0.0571429}}},
    {"transform": [{"filter": "datum.t=='box'"}], "mark": {"type": "rule", "color": "#8a8a8a", "strokeWidth": 1, "strokeDash": [7, 376]}, "encoding": {"y": {"datum": 0.0714286}}},
    {"transform": [{"filter": "datum.t=='box'"}], "mark": {"type": "rule", "color": "#8a8a8a", "strokeWidth": 1, "strokeDash": [7, 376]}, "encoding": {"y": {"datum": 0.0857143}}},
    {"transform": [{"filter": "datum.t=='box'"}], "mark": {"type": "rule", "color": "#8a8a8a", "strokeWidth": 1, "strokeDash": [7, 376]}, "encoding": {"y": {"datum": 0.1}}},
    {"transform": [{"filter": "datum.t=='box'"}], "mark": {"type": "rule", "color": "#8a8a8a", "strokeWidth": 1, "strokeDash": [7, 376]}, "encoding": {"y": {"datum": 0.1142857}}},
    {"transform": [{"filter": "datum.t=='f' && datum.p=='a'"}],
     "mark": {"type": "area", "interpolate": "monotone", "color": "#e0919e", "opacity": 1},
     "encoding": {
       "x": {"field": "x", "type": "quantitative", "scale": {"domain": [-12, 12], "nice": false},
             "axis": {"values": [-12,-10,-8,-6,-4,-2,0,2,4,6,8,10,12], "labelExpr": "datum.value % 4 == 0 ? (datum.value < 0 ? '−' + (-datum.value) : '' + datum.value) : ''", "title": "ω", "titleFontStyle": "italic", "titlePadding": 6, "tickSize": 0, "labelPadding": 9, "labelFlush": false, "labelOverlap": false, "grid": true}},
       "y": {"field": "y", "type": "quantitative", "scale": {"domain": [-0.0142857, 0.1285714], "nice": false, "zero": false},
             "axis": {"values": [0, 0.1], "format": ".1f", "title": null, "tickSize": 0, "labelPadding": 10, "labelOverlap": false, "grid": false}},
       "y2": {"datum": -0.0142857}}},
    {"transform": [{"filter": "datum.t=='f' && datum.p=='b'"}],
     "mark": {"type": "area", "interpolate": "monotone", "color": "#99e699", "opacity": 1},
     "encoding": {"x": {"field": "x", "type": "quantitative"}, "y": {"field": "y", "type": "quantitative"}, "y2": {"datum": -0.0142857}}},
    {"transform": [{"filter": "datum.t=='f'"}],
     "mark": {"type": "line", "interpolate": "monotone", "color": "#ffffff", "strokeWidth": 1.1},
     "encoding": {"x": {"field": "x", "type": "quantitative"}, "y": {"field": "y", "type": "quantitative"}}},
    {"transform": [{"filter": "datum.t=='l' && datum.p=='a'"}],
     "mark": {"type": "line", "interpolate": "monotone", "color": "#c72a46", "strokeWidth": 2.2},
     "encoding": {"x": {"field": "x", "type": "quantitative"}, "y": {"field": "y", "type": "quantitative"}}},
    {"transform": [{"filter": "datum.t=='l' && datum.p=='b'"}],
     "mark": {"type": "line", "interpolate": "monotone", "color": "#35c435", "strokeWidth": 2.2},
     "encoding": {"x": {"field": "x", "type": "quantitative"}, "y": {"field": "y", "type": "quantitative"}}},
    {"transform": [{"filter": "datum.t=='box'"}],
     "mark": {"type": "rule", "color": "#000", "strokeWidth": 2.4},
     "encoding": {"y": {"datum": -0.0142857}}},
    {"transform": [{"filter": "datum.t=='v'"}],
     "mark": {"type": "rule", "color": "#000", "strokeWidth": 1.6, "strokeDash": [5, 4]},
     "encoding": {"x": {"field": "x", "type": "quantitative"}}},
    {"transform": [{"filter": "datum.t=='box' && datum.p=='a' && datum.z==1"}],
     "mark": {"type": "rect", "color": "#fff"},
     "encoding": {"x": {"datum": -1.6}, "x2": {"datum": -0.45}, "y": {"datum": 0.058}, "y2": {"datum": 0.029}}},
    {"transform": [{"filter": "datum.t=='box' && datum.p=='a' && datum.z==1"}],
     "mark": {"type": "rect", "color": "#fff"},
     "encoding": {"x": {"datum": 0.4}, "x2": {"datum": 1.6}, "y": {"datum": 0.058}, "y2": {"datum": 0.029}}},
    {"transform": [{"filter": "datum.t=='box' && datum.z==1"}],
     "mark": {"type": "rect", "color": "#fff"},
     "encoding": {"x": {"datum": 9.2}, "x2": {"datum": 11.05}, "y": {"datum": 0.114}, "y2": {"datum": 0.085}}},
    {"transform": [{"filter": "datum.t=='box' && datum.p=='a' && datum.z==1"}],
     "mark": {"type": "text", "font": "DejaVu Serif", "fontSize": 13, "fontStyle": "italic", "color": "#000", "text": "μₗ"},
     "encoding": {"x": {"datum": -1.0}, "y": {"datum": 0.0425}}},
    {"transform": [{"filter": "datum.t=='box' && datum.p=='a' && datum.z==1"}],
     "mark": {"type": "text", "font": "DejaVu Serif", "fontSize": 13, "fontStyle": "italic", "color": "#000", "text": "μᵣ"},
     "encoding": {"x": {"datum": 1.0}, "y": {"datum": 0.0425}}},
    {"transform": [{"filter": "datum.t=='box' && datum.z==1"}],
     "mark": {"type": "text", "font": "DejaVu Serif", "fontSize": 13, "fontWeight": "bold", "color": "#000"},
     "encoding": {"x": {"datum": 10.1}, "y": {"datum": 0.0985}, "text": {"field": "tag"}}},
    {"transform": [{"filter": "datum.t=='box'"}],
     "mark": {"type": "rect", "fill": "#fff", "stroke": "#222", "strokeWidth": 1.1},
     "encoding": {"x": {"datum": -11.33}, "x2": {"datum": -8.68}, "y": {"datum": 0.1124}, "y2": {"datum": 0.0872}}},
    {"transform": [{"filter": "datum.t=='box'"}],
     "mark": {"type": "text", "font": "DejaVu Serif", "fontSize": 13, "fontStyle": "italic", "color": "#333", "align": "left", "text": "z"},
     "encoding": {"x": {"datum": -10.95}, "y": {"datum": 0.0995}}},
    {"transform": [{"filter": "datum.t=='box'"}],
     "mark": {"type": "text", "font": "DejaVu Serif", "fontSize": 13, "color": "#333", "align": "left"},
     "encoding": {"x": {"datum": -10.4}, "y": {"datum": 0.0995}, "text": {"field": "zl"}}},
    {"transform": [{"filter": "datum.t=='box' && datum.p=='a' && datum.z==4"}],
     "mark": {"type": "rect", "fill": "#fff", "stroke": "#222", "strokeWidth": 1.1},
     "encoding": {"x": {"datum": 8.6}, "x2": {"datum": 11.45}, "y": {"datum": 0.094}, "y2": {"datum": 0.067}}},
    {"transform": [{"filter": "datum.t=='box' && datum.p=='a' && datum.z==4"}],
     "mark": {"type": "text", "font": "DejaVu Serif", "fontSize": 13, "color": "#000", "text": "Ω = 5"},
     "encoding": {"x": {"datum": 10.02}, "y": {"datum": 0.0805}}},
    {"transform": [{"filter": "datum.t=='box' && datum.p=='b' && datum.z==4"}],
     "mark": {"type": "rect", "fill": "#fff", "stroke": "#222", "strokeWidth": 1.1},
     "encoding": {"x": {"datum": -2.68}, "x2": {"datum": 0.65}, "y": {"datum": 0.0522}, "y2": {"datum": 0.0266}}},
    {"transform": [{"filter": "datum.t=='box' && datum.p=='b' && datum.z==4"}],
     "mark": {"type": "text", "font": "DejaVu Serif", "fontSize": 13, "color": "#000", "text": "Ω = 11"},
     "encoding": {"x": {"datum": -1.0}, "y": {"datum": 0.0394}}},
    {"transform": [{"filter": "datum.t=='box' && datum.p=='b' && datum.z==3"}],
     "mark": {"type": "rule", "color": "#000", "strokeWidth": 1.1},
     "encoding": {"x": {"datum": -7.33}, "x2": {"datum": -5}, "y": {"datum": 0.1118}}},
    {"transform": [{"filter": "datum.t=='box' && datum.p=='b' && datum.z==3"}],
     "mark": {"type": "rule", "color": "#000", "strokeWidth": 1.1},
     "encoding": {"x": {"datum": 5}, "x2": {"datum": 7.33}, "y": {"datum": 0.1118}}},
    {"transform": [{"filter": "datum.t=='box' && datum.p=='b' && datum.z==3"}],
     "mark": {"type": "point", "shape": "M1.4,-1L0,0L1.4,1", "filled": false, "color": "#000", "strokeWidth": 1.1, "size": 36, "opacity": 1},
     "encoding": {"x": {"datum": -7.33}, "y": {"datum": 0.1118}}},
    {"transform": [{"filter": "datum.t=='box' && datum.p=='b' && datum.z==3"}],
     "mark": {"type": "point", "shape": "M-1.4,-1L0,0L-1.4,1", "filled": false, "color": "#000", "strokeWidth": 1.1, "size": 36, "opacity": 1},
     "encoding": {"x": {"datum": -5}, "y": {"datum": 0.1118}}},
    {"transform": [{"filter": "datum.t=='box' && datum.p=='b' && datum.z==3"}],
     "mark": {"type": "point", "shape": "M1.4,-1L0,0L1.4,1", "filled": false, "color": "#000", "strokeWidth": 1.1, "size": 36, "opacity": 1},
     "encoding": {"x": {"datum": 5}, "y": {"datum": 0.1118}}},
    {"transform": [{"filter": "datum.t=='box' && datum.p=='b' && datum.z==3"}],
     "mark": {"type": "point", "shape": "M-1.4,-1L0,0L-1.4,1", "filled": false, "color": "#000", "strokeWidth": 1.1, "size": 36, "opacity": 1},
     "encoding": {"x": {"datum": 7.33}, "y": {"datum": 0.1118}}},
    {"transform": [{"filter": "datum.t=='box' && datum.p=='b' && datum.z==3"}],
     "mark": {"type": "text", "font": "DejaVu Serif", "fontSize": 16, "color": "#000", "text": "Φ"},
     "encoding": {"x": {"datum": -4.0}, "y": {"datum": 0.1105}}},
    {"transform": [{"filter": "datum.t=='box' && datum.p=='b' && datum.z==3"}],
     "mark": {"type": "text", "font": "DejaVu Serif", "fontSize": 16, "color": "#000", "text": "Φ"},
     "encoding": {"x": {"datum": 4.0}, "y": {"datum": 0.1105}}}
  ]
}
}
